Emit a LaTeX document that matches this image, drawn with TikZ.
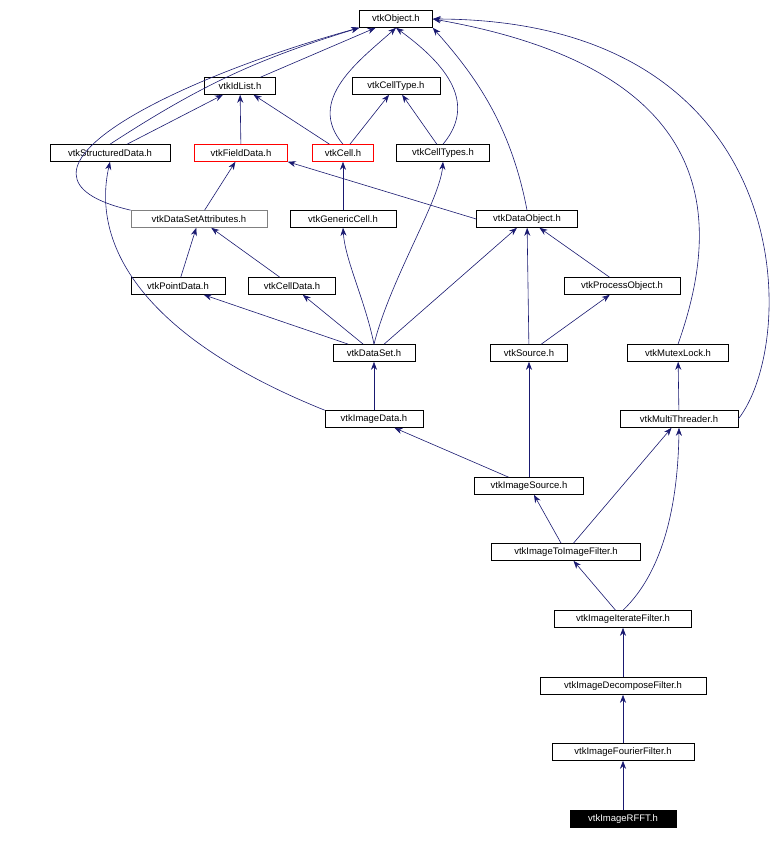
\documentclass[tikz,border=0pt]{standalone}
\usepackage{fontspec}
\setmainfont{Liberation Sans}
\usetikzlibrary{arrows.meta}
\definecolor{edgeblue}{HTML}{191970}
\begin{document}
\begin{tikzpicture}[x=1pt,y=-1pt, thick,
    file/.style={draw=black, fill=white, rectangle, inner sep=0pt, minimum height=17pt,
                 font=\fontsize{9.5}{11}\selectfont, line width=0.6pt},
    grayfile/.style={file, draw=gray},
    redfile/.style={file, draw=red},
    dep/.style={-{Stealth[length=8pt,width=6pt]}, draw=edgeblue, line width=0.6pt}]

      \useasboundingbox (0,0) rectangle (782,842);

      \node[file, minimum width=73pt] (object) at (396,19) {vtkObject.h};
      \node[file, minimum width=71pt] (idlist) at (240,86) {vtkIdList.h};
      \node[file, minimum width=88pt] (celltype) at (396,86) {vtkCellType.h};
      \node[file, minimum width=120pt] (structured) at (110,153) {vtkStructuredData.h};
      \node[redfile, minimum width=93pt] (fielddata) at (241,153) {vtkFieldData.h};
      \node[redfile, minimum width=61pt] (cell) at (343,153) {vtkCell.h};
      \node[file, minimum width=93pt] (celltypes) at (443,153) {vtkCellTypes.h};
      \node[grayfile, minimum width=136pt] (dsattr) at (199,219) {vtkDataSetAttributes.h};
      \node[file, minimum width=106pt] (generic) at (343,219) {vtkGenericCell.h};
      \node[file, minimum width=101pt] (dataobject) at (527,219) {vtkDataObject.h};
      \node[file, minimum width=94pt] (pointdata) at (178,286) {vtkPointData.h};
      \node[file, minimum width=87pt] (celldata) at (292,286) {vtkCellData.h};
      \node[file, minimum width=116pt] (process) at (622,286) {vtkProcessObject.h};
      \node[file, minimum width=82pt] (dataset) at (374,353) {vtkDataSet.h};
      \node[file, minimum width=77pt] (source) at (529,353) {vtkSource.h};
      \node[file, minimum width=101pt] (mutex) at (678,353) {vtkMutexLock.h};
      \node[file, minimum width=98pt] (imagedata) at (374,419) {vtkImageData.h};
      \node[file, minimum width=118pt] (threader) at (679,419) {vtkMultiThreader.h};
      \node[file, minimum width=109pt] (imagesource) at (529,486) {vtkImageSource.h};
      \node[file, minimum width=149pt] (toimage) at (566,552) {vtkImageToImageFilter.h};
      \node[file, minimum width=137pt] (iterate) at (623,619) {vtkImageIterateFilter.h};
      \node[file, minimum width=166pt] (decompose) at (623,686) {vtkImageDecomposeFilter.h};
      \node[file, minimum width=142pt] (fourier) at (623,752) {vtkImageFourierFilter.h};
      \node[file, fill=black, text=white, minimum width=106pt] (rfft) at (623,819) {vtkImageRFFT.h};

      \draw[dep] (idlist) -- (object);
      \draw[dep] (structured.north) to[bend left=8] (object.south west);
      \draw[dep] (structured) -- (idlist);
      \draw[dep] (fielddata) -- (idlist);
      \draw[dep] (cell) -- (idlist);
      \draw[dep] (cell.north) .. controls (305,100) and (360,60) .. (object.south);
      \draw[dep] (cell) -- (celltype);
      \draw[dep] (celltypes) -- (celltype);
      \draw[dep] (celltypes.north) .. controls (480,100) and (440,60) .. (object.south);
      \draw[dep] (dsattr.north west) .. controls (-20,175) and (170,80) .. (object.south west);
      \draw[dep] (dsattr) -- (fielddata);
      \draw[dep] (generic) -- (cell);
      \draw[dep] (dataobject.west) -- (fielddata.south east);
      \draw[dep] (dataobject.north) .. controls (510,120) and (470,70) .. (object.south east);
      \draw[dep] (pointdata) -- (dsattr);
      \draw[dep] (celldata) -- (dsattr);
      \draw[dep] (process) -- (dataobject);
      \draw[dep] (dataset) -- (pointdata);
      \draw[dep] (dataset) -- (celldata);
      \draw[dep] (dataset.north) .. controls (365,300) and (345,260) .. (generic.south);
      \draw[dep] (dataset.north) .. controls (390,280) and (440,200) .. (celltypes.south);
      \draw[dep] (dataset) -- (dataobject);
      \draw[dep] (source) -- (dataobject);
      \draw[dep] (source) -- (process);
      \draw[dep] (mutex.north) .. controls (722,220) and (722,70) .. (object.east);
      \draw[dep] (imagedata) -- (dataset);
      \draw[dep] (imagedata.north west) .. controls (150,340) and (90,250) .. (structured.south);
      \draw[dep] (threader) -- (mutex);
      \draw[dep] (threader.east) .. controls (800,340) and (800,20) .. (object.east);
      \draw[dep] (imagesource) -- (imagedata);
      \draw[dep] (imagesource) -- (source);
      \draw[dep] (toimage) -- (imagesource);
      \draw[dep] (toimage) -- (threader);
      \draw[dep] (iterate) -- (toimage);
      \draw[dep] (iterate.north) .. controls (665,570) and (678,500) .. (threader.south);
      \draw[dep] (decompose) -- (iterate);
      \draw[dep] (fourier) -- (decompose);
      \draw[dep] (rfft) -- (fourier);
    \end{tikzpicture}
\end{document}
